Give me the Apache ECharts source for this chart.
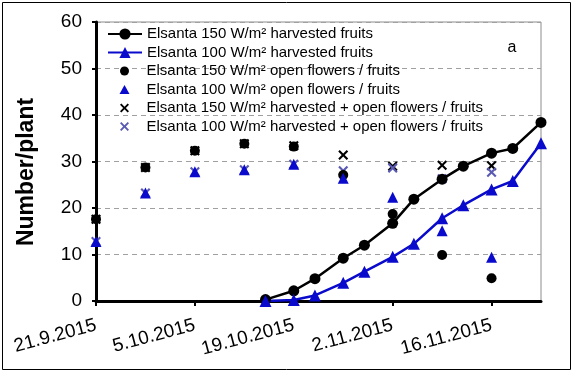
<!DOCTYPE html>
<html><head><meta charset="utf-8">
<script src="https://cdn.jsdelivr.net/npm/echarts@6/dist/echarts.min.js"></script>
<style>html,body{margin:0;padding:0;background:#fff}#c{width:574px;height:372px}</style>
</head><body><div id="c"></div>
<script>
// ---- data ----
const harvestDates = ['2015-10-15','2015-10-19','2015-10-22','2015-10-26','2015-10-29','2015-11-02','2015-11-05','2015-11-09','2015-11-12','2015-11-16','2015-11-19','2015-11-23'];
const harvested150 = [0.3, 2.2, 4.8, 9.2, 12.0, 16.7, 21.9, 26.2, 29.0, 31.8, 32.8, 38.4];
const harvested100 = [0.0, 0.2, 1.2, 3.9, 6.3, 9.5, 12.3, 17.8, 20.6, 24.0, 25.8, 33.9];
const openDates = ['2015-09-21','2015-09-28','2015-10-05','2015-10-12','2015-10-19','2015-10-26','2015-11-02','2015-11-09','2015-11-16'];
const open150 = [17.6, 28.7, 32.3, 33.8, 33.2, 27.1, 18.7, 9.9, 4.9];
const open100 = [12.8, 23.2, 27.8, 28.2, 29.4, 26.4, 22.3, 15.1, 9.4];
const total150 = [17.6, 28.7, 32.3, 33.8, 33.4, 31.4, 29.0, 29.2, 29.1];
const total100 = [12.8, 23.2, 27.8, 28.2, 29.4, 28.0, 28.6, 26.3, 27.7];
const tickDates = ['2015-09-21','2015-10-05','2015-10-19','2015-11-02','2015-11-16'];
const axisStart = '2015-09-21';
const axisEnd = '2015-11-23';
const seriesNames = [
  'Elsanta 150 W/m² harvested fruits',
  'Elsanta 100 W/m² harvested fruits',
  'Elsanta 150 W/m² open flowers / fruits',
  'Elsanta 100 W/m² open flowers / fruits',
  'Elsanta 150 W/m² harvested + open flowers / fruits',
  'Elsanta 100 W/m² harvested + open flowers / fruits'
];
const yTitle = 'Number/plant';
const panelLabel = 'a';

// ---- helpers ----
const DAY = 86400000;
function utc(s){ const p = s.split('-').map(Number); return Date.UTC(p[0], p[1]-1, p[2]); }
const base = utc(axisStart);
function dayNum(s){ return Math.round((utc(s) - base) / DAY); }
function fmt(v){ const d = new Date(base + v*DAY); return d.getUTCDate() + '.' + (d.getUTCMonth()+1) + '.' + d.getUTCFullYear(); }
function pairs(dates, vals){ return dates.map((d,i)=>[dayNum(d), vals[i]]); }

const FONT = 'Liberation Sans, Arial, sans-serif';
const BLUE = '#0a0acc';
const XBLUE = '#5a5ab4';
const XPATH = 'path://M0,1.5L1.5,0L5,3.5L8.5,0L10,1.5L6.5,5L10,8.5L8.5,10L5,6.5L1.5,10L0,8.5L3.5,5Z';
const TRIPATH = 'path://M5,0L10,9L0,9Z';
const ticks = tickDates.map(dayNum);

const chart = echarts.init(document.getElementById('c'), null, {renderer:'canvas'});
const legendText = {fontSize:15, color:'#000', fontFamily:FONT, lineHeight:15};
chart.setOption({
  animation:false,
  backgroundColor:'#fff',
  grid:{left:96, right:33, top:22, bottom:71, show:true, borderColor:'#8c8c8c', borderWidth:1, backgroundColor:'transparent'},
  legend:[
    {orient:'vertical', left:107, top:26.5, padding:0, itemWidth:34, itemHeight:14, itemGap:3.5, selectedMode:false, symbolKeepAspect:true,
     data:[seriesNames[0], seriesNames[1]], textStyle:legendText},
    {orient:'vertical', left:119.5, top:63.5, padding:0, itemWidth:34, itemHeight:9, itemGap:3.5, selectedMode:false, symbolKeepAspect:true,
     data:[seriesNames[2], {name:seriesNames[3], icon:TRIPATH}, seriesNames[4], seriesNames[5]], textStyle:legendText}
  ],
  xAxis:{
    type:'value', min:0, max:dayNum(axisEnd), interval:14,
    axisLine:{show:true, onZero:false, lineStyle:{color:'#000', width:3}},
    axisTick:{show:true, customValues:ticks, length:5, lineStyle:{color:'#000', width:2}},
    axisLabel:{customValues:ticks, formatter:fmt, rotate:15, margin:24, fontSize:19, color:'#000', fontFamily:FONT},
    splitLine:{show:false}
  },
  yAxis:{
    type:'value', min:0, max:60, interval:10,
    axisLine:{show:true, lineStyle:{color:'#000', width:3}},
    axisTick:{show:true, length:4, lineStyle:{color:'#000', width:2}},
    axisLabel:{fontSize:19, color:'#000', margin:14, fontFamily:FONT},
    splitLine:{show:true, lineStyle:{color:'#a0a0a0', width:1, type:[5,4]}}
  },
  graphic:[
    {type:'text', x:27, y:172, rotation:Math.PI/2, style:{text:yTitle, font:'bold 23px ' + FONT, fill:'#000', align:'center', verticalAlign:'middle'}},
    {type:'text', x:512, y:48, style:{text:panelLabel, font:'16px ' + FONT, fill:'#000', align:'center', verticalAlign:'middle'}},
    {type:'rect', shape:{x:2.5, y:2.5, width:568, height:367}, style:{fill:'none', stroke:'#000', lineWidth:1}, silent:true}
  ],
  series:[
    {name:seriesNames[4], type:'scatter', z:1, data:pairs(openDates, total150), symbol:XPATH, symbolSize:10, symbolKeepAspect:true,
     itemStyle:{color:'#000', opacity:1}, emphasis:{disabled:true}},
    {name:seriesNames[5], type:'scatter', z:1, data:pairs(openDates, total100), symbol:XPATH, symbolSize:10, symbolKeepAspect:true,
     itemStyle:{color:XBLUE, opacity:1}, emphasis:{disabled:true}},
    {name:seriesNames[0], type:'line', data:pairs(harvestDates, harvested150), symbol:'circle', symbolSize:11, showSymbol:true,
     lineStyle:{color:'#000', width:2.5}, itemStyle:{color:'#000'}, emphasis:{disabled:true}},
    {name:seriesNames[1], type:'line', data:pairs(harvestDates, harvested100), symbol:'triangle', symbolSize:12, showSymbol:true,
     lineStyle:{color:BLUE, width:2.5}, itemStyle:{color:BLUE}, emphasis:{disabled:true}},
    {name:seriesNames[2], type:'scatter', data:pairs(openDates, open150), symbol:'circle', symbolSize:10, symbolKeepAspect:true,
     itemStyle:{color:'#000', opacity:1}, emphasis:{disabled:true}},
    {name:seriesNames[3], type:'scatter', data:pairs(openDates, open100), symbol:'triangle', symbolSize:11, symbolKeepAspect:true,
     itemStyle:{color:BLUE, opacity:1}, emphasis:{disabled:true}}
  ]
});
</script>
</body></html>
